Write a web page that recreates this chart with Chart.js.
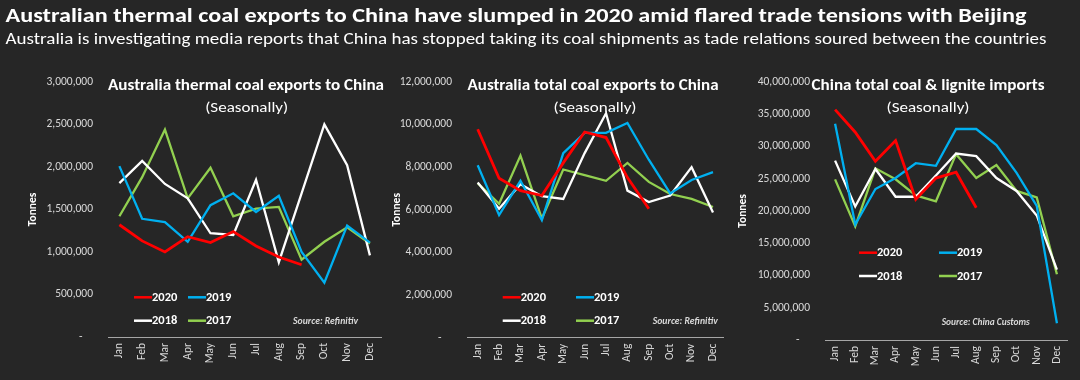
<!DOCTYPE html>
<html>
<head>
<meta charset="utf-8">
<script src="https://cdn.jsdelivr.net/npm/chart.js@4.4.1/dist/chart.umd.min.js"></script>
<style>
  html, body { margin: 0; padding: 0; background: #262626; }
  #wrap { position: relative; width: 1080px; height: 380px; overflow: hidden; background: #262626; }
  canvas { position: absolute; }
</style>
</head>
<body>
<div id="wrap">
  <canvas id="hdr" width="1080" height="60" style="left:0;top:0;width:1080px;height:60px"></canvas>
  <canvas id="c1" style="left:0;top:60px;"></canvas>
  <canvas id="c2" style="left:383px;top:60px;"></canvas>
  <canvas id="c3" style="left:733px;top:60px;"></canvas>
</div>
<script>
// ---------- DATA ----------
const months = ['Jan','Feb','Mar','Apr','May','Jun','Jul','Aug','Sep','Oct','Nov','Dec'];
const seriesNames = ['2020','2019','2018','2017'];
const seriesColors = ['#ff0000','#00b0f0','#ffffff','#92d050'];

const mainTitle = 'Australian thermal coal exports to China have slumped in 2020 amid flared trade tensions with Beijing';
const subTitle = 'Australia is investigating media reports that China has stopped taking its coal shipments as tade relations soured between the countries';

// Panel 1: Australia thermal coal exports to China (tonnes)
const thermal2020 = [1320000,1130000,1000000,1180000,1110000,1240000,1070000,940000,850000,null,null,null];
const thermal2019 = [2010000,1390000,1350000,1120000,1550000,1690000,1470000,1660000,1000000,640000,1310000,1110000];
const thermal2018 = [1810000,2070000,1800000,1630000,1220000,1200000,1850000,880000,1690000,2500000,2020000,960000];
const thermal2017 = [1420000,1880000,2440000,1630000,1990000,1420000,1510000,1530000,910000,1120000,1290000,1100000];

// Panel 2: Australia total coal exports to China (tonnes)
const total2020 = [9780000,7480000,6900000,6670000,8200000,9650000,9390000,7510000,6050000,null,null,null];
const total2019 = [8090000,5750000,7360000,5520000,8660000,9610000,9610000,10070000,8350000,6770000,7400000,7770000];
const total2018 = [7280000,6050000,7200000,6640000,6510000,8660000,10530000,6900000,6360000,6670000,8000000,5870000];
const total2017 = [7250000,6280000,8540000,5590000,7890000,7630000,7360000,8200000,7310000,6740000,6510000,6130000];

// Panel 3: China total coal & lignite imports (tonnes)
const china2020 = [35700000,32200000,27700000,30900000,21800000,25100000,26000000,20500000,null,null,null,null];
const china2019 = [33500000,17900000,23400000,25100000,27400000,27000000,32700000,32700000,30200000,25900000,20800000,2600000];
const china2018 = [27800000,20700000,26500000,22200000,22200000,25500000,28900000,28500000,25100000,23100000,19300000,10900000];
const china2017 = [24900000,17600000,26600000,24900000,22400000,21500000,28800000,25100000,27100000,23100000,22100000,10200000];

const panelTitles = ['Australia thermal coal exports to China','Australia total coal exports to China','China total coal & lignite imports'];
const panelSub = '(Seasonally)';
const sources = ['Source: Refinitiv','Source: Refinitiv','Source: China Customs'];
const yMax = [3000000, 12000000, 40000000];
const yStep = [500000, 2000000, 5000000];
const yTitle = 'Tonnes';

// ---------- RENDER ----------
const FONT = 'Carlito, Lato, "Open Sans", sans-serif';

function fitText(ctx, text, x, y, targetW, align) {
  const w = ctx.measureText(text).width;
  const s = targetW / w;
  ctx.save();
  ctx.translate(x, y);
  ctx.scale(s, 1);
  ctx.textAlign = align || 'left';
  ctx.fillText(text, 0, 0);
  ctx.restore();
}

// Header
(function(){
  const ctx = document.getElementById('hdr').getContext('2d');
  ctx.fillStyle = '#ffffff';
  ctx.textBaseline = 'alphabetic';
  ctx.font = 'bold 21px ' + FONT;
  fitText(ctx, mainTitle, 5.5, 21.5, 1021, 'left');
  ctx.font = '16.5px ' + FONT;
  fitText(ctx, subTitle, 5.5, 43.5, 1041, 'left');
})();

const decoPlugin = {
  id: 'panelDeco',
  afterDraw(chart, args, o) {
    const ctx = chart.ctx;
    ctx.save();
    ctx.fillStyle = '#ffffff';
    ctx.textBaseline = 'middle';
    ctx.font = 'bold 15px ' + FONT;
    fitText(ctx, o.title, o.cx, o.titleY, o.titleW, 'center');
    ctx.font = '15px ' + FONT;
    fitText(ctx, o.sub, o.subCx, o.subY, o.subW, 'center');
    // legend
    ctx.font = 'bold 12.5px ' + FONT;
    chart.data.datasets.forEach((ds, i) => {
      const col = i % 2, row = Math.floor(i / 2);
      const sx = o.legX[col], y = o.legY[row];
      ctx.strokeStyle = ds.borderColor;
      ctx.lineWidth = 2.5;
      ctx.beginPath();
      ctx.moveTo(sx, y);
      ctx.lineTo(sx + 18, y);
      ctx.stroke();
      ctx.fillStyle = '#ffffff';
      ctx.textAlign = 'left';
      ctx.fillText(ds.label, sx + 18, y + 0.5);
    });
    // source
    ctx.fillStyle = '#d9d9d9';
    ctx.font = 'italic bold 9.5px ' + FONT;
    fitText(ctx, o.source, o.srcX, o.srcY, o.srcW, 'left');
    ctx.restore();
  }
};

function fmt(v) {
  if (v === 0) return '-    ';
  return v.toLocaleString('en-US');
}

function makeChart(id, w, h, idx, dataArrs, lay, deco) {
  const cv = document.getElementById(id);
  cv.width = w; cv.height = h;
  cv.style.width = w + 'px'; cv.style.height = h + 'px';
  return new Chart(cv, {
    type: 'line',
    data: {
      labels: months,
      datasets: dataArrs.map((d, i) => ({
        label: seriesNames[i],
        data: d,
        borderColor: seriesColors[i],
        backgroundColor: seriesColors[i],
        borderWidth: i === 0 ? 2.8 : 2.3,
        pointRadius: 0,
        pointHoverRadius: 0,
        tension: 0,
        fill: false,
        spanGaps: false
      }))
    },
    options: {
      responsive: false,
      animation: false,
      devicePixelRatio: 1,
      layout: { padding: { left: lay.padL, right: lay.padR, top: lay.padT, bottom: 0 } },
      plugins: {
        legend: { display: false },
        tooltip: { enabled: false },
        title: { display: false },
        panelDeco: deco
      },
      scales: {
        x: {
          offset: true,
          grid: { display: false, drawTicks: false },
          border: { display: true, color: '#a6a6a6', width: 1 },
          ticks: {
            color: '#d9d9d9',
            font: { family: FONT, size: 11.5 },
            minRotation: 90, maxRotation: 90,
            padding: 6,
            autoSkip: false
          },
          afterFit(s) { s.height = lay.xH; }
        },
        y: {
          min: 0, max: yMax[idx],
          grid: { display: false, drawTicks: false },
          border: { display: false },
          ticks: {
            stepSize: yStep[idx],
            color: '#d9d9d9',
            font: { family: FONT, size: 11.5 },
            padding: 15,
            callback: fmt
          },
          title: {
            display: true,
            text: yTitle,
            color: '#ffffff',
            font: { family: FONT, size: 11.5, weight: 'bold' },
            padding: { top: 0, bottom: 0 }
          },
          afterFit(s) { s.width = lay.yW; }
        }
      }
    },
    plugins: [decoPlugin]
  });
}

makeChart('c1', 390, 320, 0, [thermal2020, thermal2019, thermal2018, thermal2017],
  { padL: 26, padR: 7, padT: 17.5, xH: 43, yW: 82 },
  { title: panelTitles[0], sub: panelSub, cx: 246, titleY: 26.7, titleW: 276, subCx: 246.7, subY: 48.3, subW: 83,
    legX: [134, 188], legY: [237.3, 260.7], source: sources[0], srcX: 293, srcY: 262, srcW: 65 });

makeChart('c2', 350, 320, 1, [total2020, total2019, total2018, total2017],
  { padL: 7.4, padR: 5, padT: 17.3, xH: 42.3, yW: 76.6 },
  { title: panelTitles[1], sub: panelSub, cx: 210, titleY: 26.7, titleW: 251, subCx: 212, subY: 48.3, subW: 83,
    legX: [119.7, 193], legY: [237.3, 260.7], source: sources[1], srcX: 269.7, srcY: 262, srcW: 65 });

makeChart('c3', 347, 320, 2, [china2020, china2019, china2018, china2017],
  { padL: 3.4, padR: 13, padT: 17.3, xH: 40, yW: 88.6 },
  { title: panelTitles[2], sub: panelSub, cx: 195, titleY: 26.7, titleW: 233, subCx: 195, subY: 48.3, subW: 83,
    legX: [126, 206], legY: [192.7, 216], source: sources[2], srcX: 208.7, srcY: 262.7, srcW: 88 });
</script>
</body>
</html>
